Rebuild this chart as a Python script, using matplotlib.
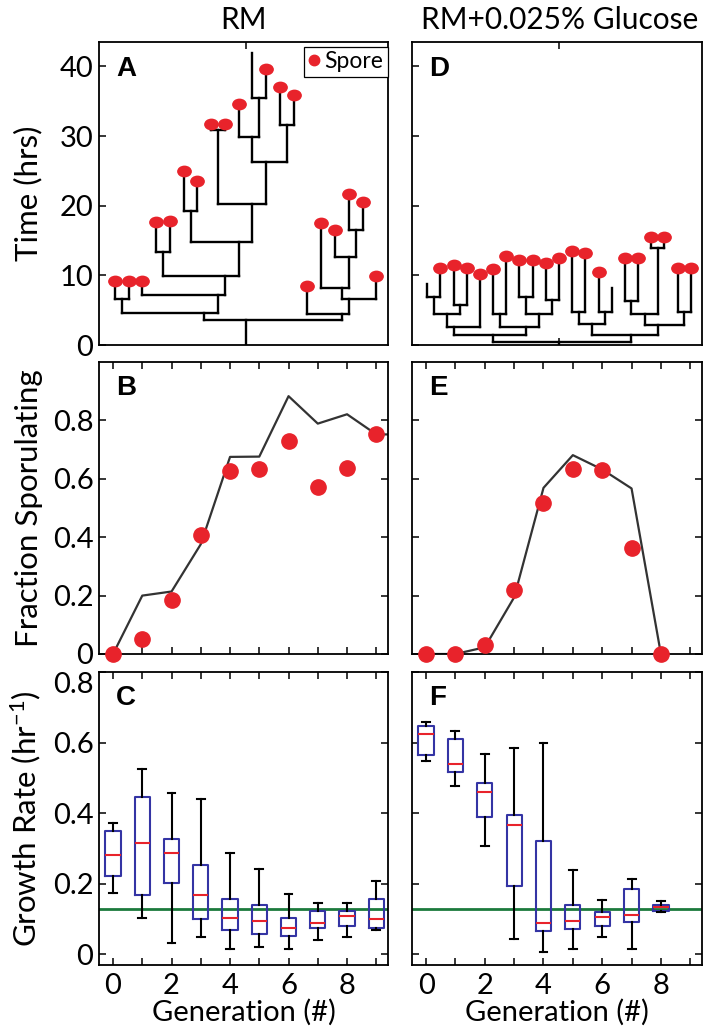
import numpy as np
import matplotlib
matplotlib.use('Agg')
import matplotlib.pyplot as plt
from matplotlib.path import Path
from matplotlib.lines import Line2D

plt.rcParams['font.family'] = ['Lato', 'DejaVu Sans']
plt.rcParams['mathtext.default'] = 'regular'

# ---------------- data ----------------
col_titles = ['RM', 'RM+0.025% Glucose']
panel_letters = ['A', 'B', 'C', 'D', 'E', 'F']

# lineage trees: leaf = (end_time, 'S' spore / '-' none); node = (split_time, left, right)
tree_rm = (3.59,
           (4.54,
            (6.60, (9.23, 'S'), (9.23, 'S')),
            (7.17,
             (9.23, 'S'),
             (9.90,
              (13.30, (17.60, 'S'), (17.84, 'S')),
              (14.83,
               (19.27, (24.96, 'S'), (23.58, 'S')),
               (20.23,
                (30.85, (31.66, 'S'), (31.66, 'S')),
                (26.30,
                 (29.89, (34.67, 'S'), (35.39, (41.94, '-'), (39.65, 'S'))),
                 (31.56, (36.97, 'S'), (35.96, 'S')))))))),
           (4.45,
            (8.51, 'S'),
            (6.60,
             (8.13,
              (17.55, 'S'),
              (12.67, (16.50, 'S'), (16.50, (21.62, 'S'), (20.56, 'S')))),
             (9.90, 'S'))))

tree_glu = (0.40,
            (1.48,
             (2.53,
              (4.45,
               (6.84, (8.70, '-'), (11.10, 'S')),
               (5.74, (11.48, 'S'), (11.10, 'S'))),
              (10.14, 'S')),
             (2.53,
              (4.45, (10.86, 'S'), (12.77, 'S')),
              (4.45,
               (6.84, (12.20, 'S'), (12.20, 'S')),
               (6.46, (11.81, 'S'), (12.43, 'S'))))),
            (1.48,
             (3.01,
              (4.78, (13.49, 'S'), (13.15, 'S')),
              (4.78, (10.43, 'S'), (8.13, '-'))),
             (2.87,
              (4.45,
               (6.36, (12.43, 'S'), (12.43, 'S')),
               (13.87, (15.54, 'S'), (15.54, 'S'))),
              (4.78, (11.10, 'S'), (11.10, 'S')))))

time_ticks = [0, 10, 20, 30, 40]
time_ticklabels = ['0', '10', '20', '30', '40']

gen_rm = [0, 1, 2, 3, 4, 5, 6, 7, 8, 9]
frac_rm_obs = [0.0, 0.05, 0.186, 0.408, 0.627, 0.632, 0.729, 0.573, 0.638, 0.752]
gen_rm_model = [0, 1, 2, 3, 4, 5, 6, 7, 8, 9, 10]
frac_rm_model = [0.0, 0.20, 0.214, 0.376, 0.675, 0.676, 0.883, 0.789, 0.821, 0.752, 0.752]

gen_glu = [0, 1, 2, 3, 4, 5, 6, 7, 8]
frac_glu_obs = [0.0, 0.0, 0.03, 0.219, 0.516, 0.632, 0.629, 0.362, 0.0]
frac_glu_model = [0.0, 0.0, 0.023, 0.194, 0.569, 0.681, 0.632, 0.567, 0.0]

frac_ticks = [0, 0.2, 0.4, 0.6, 0.8]
frac_ticklabels = ['0', '0.2', '0.4', '0.6', '0.8']

rm_whislo = [0.174, 0.102, 0.031, 0.048, 0.014, 0.020, 0.015, 0.041, 0.050, 0.068]
rm_q1 = [0.221, 0.168, 0.201, 0.099, 0.069, 0.058, 0.052, 0.074, 0.081, 0.076]
rm_med = [0.281, 0.317, 0.286, 0.168, 0.102, 0.094, 0.076, 0.090, 0.110, 0.100]
rm_q3 = [0.349, 0.446, 0.328, 0.253, 0.158, 0.140, 0.104, 0.124, 0.124, 0.158]
rm_whishi = [0.373, 0.524, 0.458, 0.439, 0.286, 0.241, 0.171, 0.147, 0.147, 0.208]

glu_whislo = [0.548, 0.477, 0.307, 0.043, 0.008, 0.015, 0.049, 0.015, 0.121]
glu_q1 = [0.564, 0.518, 0.389, 0.194, 0.067, 0.071, 0.080, 0.091, 0.122]
glu_med = [0.625, 0.539, 0.461, 0.366, 0.090, 0.095, 0.107, 0.113, 0.135]
glu_q3 = [0.646, 0.609, 0.486, 0.394, 0.322, 0.139, 0.119, 0.185, 0.141]
glu_whishi = [0.658, 0.633, 0.567, 0.585, 0.600, 0.240, 0.154, 0.215, 0.151]

reference_rate = 0.13
growth_ticks = [0, 0.2, 0.4, 0.6, 0.8]
growth_ticklabels = ['0', '0.2', '0.4', '0.6', '0.8']
gen_ticks = [0, 1, 2, 3, 4, 5, 6, 7, 8, 9]
gen_ticklabels = ['0', '', '2', '', '4', '', '6', '', '8', '']

# ---------------- style ----------------
RED = '#e8232b'
BLUE = '#3434a4'
GREEN = '#1c7a3c'
GREY = '#333333'
TICK_FS = 21
LABEL_FS = 22.5
XLABEL_FS = 21
LETTER_FS = 20
TITLE_FS = 21.5

fig = plt.figure(figsize=(7.09, 10.30), dpi=100)


def px_axes(x0, y0, x1, y1):
    return fig.add_axes([x0 / 709, 1 - y1 / 1030, (x1 - x0) / 709, (y1 - y0) / 1030])


axA = px_axes(99, 42, 388, 345)
axD = px_axes(412, 42, 702, 345)
axB = px_axes(99, 362, 388, 654)
axE = px_axes(412, 362, 702, 654)
axC = px_axes(99, 672, 388, 965)
axF = px_axes(412, 672, 702, 965)

for ax in (axA, axB, axC, axD, axE, axF):
    for s in ax.spines.values():
        s.set_linewidth(1.3)
    ax.tick_params(direction='in', length=5, width=1.1, labelsize=TICK_FS, pad=4)

# spore marker: an ellipse
_c = Path.unit_circle()
spore_marker = Path(_c.vertices * np.array([1.0, 0.78]), _c.codes)


def draw_tree(ax, tree):
    counter = [0]
    spores = []

    def rec(node, t_start):
        if len(node) == 2:
            t_end, flag = node
            x = counter[0]
            counter[0] += 1
            ax.plot([x, x], [t_start, t_end], color='k', lw=1.7, solid_capstyle='projecting', zorder=2)
            if flag == 'S':
                spores.append((x, t_end))
            return x, [x]
        t_split, left, right = node
        xl, ll = rec(left, t_split)
        xr, lr = rec(right, t_split)
        leaves = ll + lr
        x = float(np.mean(leaves))
        ax.plot([x, x], [t_start, t_split], color='k', lw=1.7, solid_capstyle='projecting', zorder=2)
        ax.plot([xl, xr], [t_split, t_split], color='k', lw=1.7, solid_capstyle='projecting', zorder=2)
        return x, leaves

    xroot, leaves = rec(tree, 0.0)
    sx, sy = zip(*spores)
    ax.plot(sx, sy, linestyle='none', marker=spore_marker, ms=9.6, color=RED, mec=RED, zorder=3)
    return xroot, len(leaves)


for ax, tree in ((axA, tree_rm), (axD, tree_glu)):
    xroot, n = draw_tree(ax, tree)
    half = (n + 0.7) / 2.0 + 0.2
    ax.set_xlim(xroot - half - 0.1, xroot + half - 0.2)
    ax.set_ylim(0, 43.5)
    ax.set_xticks([xroot])
    ax.set_xticklabels([''])
    ax.set_yticks(time_ticks)
    ax.tick_params(top=True, bottom=True, left=True, right=False)

axA.set_yticklabels(time_ticklabels)
axD.set_yticklabels([''] * len(time_ticks))
axA.set_ylabel('Time (hrs)', fontsize=LABEL_FS)

spore_handle = Line2D([], [], linestyle='none', marker='o', ms=7.5, color=RED)
leg = axA.legend([spore_handle], ['Spore'], loc='upper right', bbox_to_anchor=(1.0, 0.985),
                 borderaxespad=0, fontsize=16.5, handlelength=0.5, handletextpad=0.2,
                 borderpad=0.2, fancybox=False, framealpha=1, edgecolor='k')
leg.get_frame().set_linewidth(0.9)

# fraction sporulating
axB.plot(gen_rm_model, frac_rm_model, color=GREY, lw=1.6, zorder=2)
axB.plot(gen_rm, frac_rm_obs, linestyle='none', marker='o', ms=11, color=RED, zorder=3, clip_on=False)
axE.plot(gen_glu, frac_glu_model, color=GREY, lw=1.6, zorder=2)
axE.plot(gen_glu, frac_glu_obs, linestyle='none', marker='o', ms=11, color=RED, zorder=3, clip_on=False)
for ax in (axB, axE):
    ax.set_ylim(0, 1.0)
    ax.set_xlim(-0.48, 9.4)
    ax.set_yticks(frac_ticks)
    ax.set_xticks(gen_ticks)
    ax.set_xticklabels([''] * len(gen_ticks))
    ax.tick_params(top=True, bottom=True, left=True, right=True)
axB.set_yticklabels(frac_ticklabels)
axE.set_yticklabels([''] * len(frac_ticks))
axB.set_ylabel('Fraction Sporulating', fontsize=LABEL_FS)


# growth rate boxplots
def stats(lo, q1, med, q3, hi):
    return [dict(whislo=a, q1=b, med=c, q3=d, whishi=e, fliers=[])
            for a, b, c, d, e in zip(lo, q1, med, q3, hi)]


for ax, st, gens in ((axC, stats(rm_whislo, rm_q1, rm_med, rm_q3, rm_whishi), gen_rm),
                     (axF, stats(glu_whislo, glu_q1, glu_med, glu_q3, glu_whishi), gen_glu)):
    ax.axhline(reference_rate, color=GREEN, lw=2.0, zorder=1)
    ax.bxp(st, positions=gens, widths=0.52, capwidths=0.27, showfliers=False, manage_ticks=False,
           boxprops=dict(color=BLUE, lw=1.5),
           whiskerprops=dict(color='k', lw=1.5, linestyle='-'),
           capprops=dict(color='k', lw=1.5),
           medianprops=dict(color=RED, lw=1.5))
    ax.set_ylim(-0.03, 0.8)
    ax.set_xlim(-0.48, 9.4)
    ax.set_yticks(growth_ticks)
    ax.set_xticks(gen_ticks)
    ax.set_xticklabels(gen_ticklabels)
    ax.tick_params(top=True, bottom=True, left=True, right=True, axis='both')
    ax.tick_params(axis='x', pad=6)
    ax.set_xlabel('Generation (#)', fontsize=XLABEL_FS, labelpad=0)
axC.set_yticklabels(growth_ticklabels)
axF.set_yticklabels([''] * len(growth_ticks))
axC.yaxis.get_major_ticks()[-1].label1.set_va('top')
axC.set_ylabel('Growth Rate (hr$^{-1}$)', fontsize=LABEL_FS)

for ax in (axA, axB, axC):
    ax.yaxis.set_label_coords(-0.195, 0.5)

for ax, letter in zip((axA, axB, axC, axD, axE, axF), panel_letters):
    ax.text(0.06, 0.955, letter, transform=ax.transAxes, ha='left', va='top',
            fontsize=LETTER_FS, fontweight='bold', family='Liberation Sans')

fig.text(243 / 709, 1 - 20 / 1030, col_titles[0], ha='center', va='center', fontsize=TITLE_FS)
fig.text(560 / 709, 1 - 20 / 1030, col_titles[1], ha='center', va='center', fontsize=TITLE_FS)

fig.savefig('out.png', dpi=100)
